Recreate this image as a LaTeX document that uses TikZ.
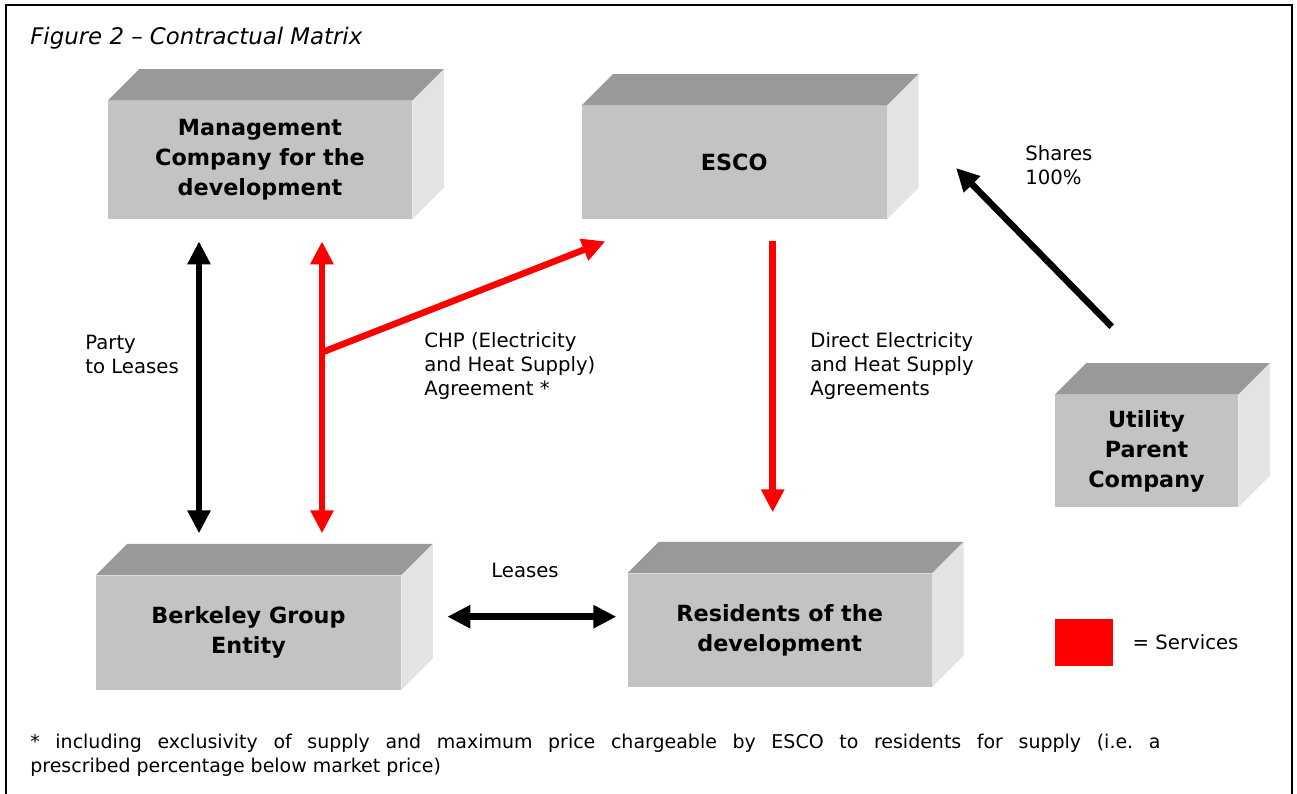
\documentclass[tikz,border=0pt]{standalone}
\usepackage{fontspec}
\setmainfont{DejaVu Sans}
\usetikzlibrary{positioning,arrows.meta,calc}
\frenchspacing

\definecolor{frontgray}{RGB}{195,195,195}
\definecolor{topgray}{RGB}{153,153,153}
\definecolor{sidegray}{RGB}{227,227,227}

\begin{document}
\begin{tikzpicture}[
    font=\fontsize{11.2}{13.66}\selectfont,
    >={Triangle[length=0.46cm,width=0.44cm]},
    cuboid/.style={
        fill=frontgray,
        minimum width=6.1cm,
        minimum height=2.28cm,
        align=center,
        inner sep=0pt,
        font=\fontsize{12.7}{17.1}\selectfont\bfseries
    },
    smallcuboid/.style={
        cuboid,
        minimum width=3.66cm,
        minimum height=2.24cm
    },
    topface/.style={fill=topgray},
    sideface/.style={fill=sidegray},
    lbl/.style={
        align=left,
        anchor=west,
        inner sep=0pt
    },
    oneway/.style={
        ->,
        line width=0.13cm
    },
    twoway/.style={
        <->,
        line width=0.13cm
    }
]

% Dimensions
\def\depth{0.63}
\useasboundingbox (0,0) rectangle (25.94,-15.88);

% Frame
\draw[line width=0.04cm] (0.12,-15.88) -- (0.12,-0.10) -- (25.84,-0.10) -- (25.84,-15.88);

% Title
\node[lbl, font=\fontsize{13}{15}\selectfont\itshape] (title) at (0.60,-0.76) {Figure 2 \textendash{} Contractual Matrix};

% Boxes
\node[cuboid, minimum width=6.08cm, minimum height=2.36cm] (mgmt) at (5.20,-3.20) {Management\\Company for the\\development};
\node[cuboid, minimum height=2.26cm, right=3.38cm of mgmt, yshift=-0.05cm] (esco) {ESCO};
\node[cuboid, below=7.12cm of mgmt, xshift=-0.23cm] (berk) {Berkeley Group\\Entity};
\node[cuboid, minimum width=6.08cm, minimum height=2.26cm, right=4.52cm of berk, yshift=0.05cm] (res) {Residents of the\\development};
\node[smallcuboid] (util) at (22.93,-9.02) {Utility\\Parent\\Company};

% Top and side faces
\foreach \n in {mgmt,esco,berk,res,util} {
    \fill[topface] (\n.north west) -- ++(\depth,\depth) -- ($(\n.north east)+(\depth,\depth)$) -- (\n.north east) -- cycle;
    \fill[sideface] (\n.north east) -- ++(\depth,\depth) -- ($(\n.south east)+(\depth,\depth)$) -- (\n.south east) -- cycle;
}

% Arrows between management company and Berkeley
\draw[twoway] ($(mgmt.south)+(-1.22,-0.44)$) -- ($(mgmt.south |- berk.north)+(-1.22,0.84)$);
\draw[twoway, red] ($(mgmt.south)+(1.24,-0.44)$) -- ($(mgmt.south |- berk.north)+(1.24,0.84)$);

% CHP agreement branch
\coordinate (fork) at ($(mgmt.south)+(1.24,-2.66)$);
\draw[oneway, red] (fork) -- ($(esco.south west)+(0.48,-0.44)$);

% Supply to residents
\draw[oneway, red] ($(esco.south)+(0.77,-0.44)$) -- ($(esco.south |- res.north)+(0.77,1.22)$);

% Shares
\draw[oneway] ($(util.north west)+(1.14,1.36)$) -- ($(esco.east)+(1.38,-0.11)$);

% Leases
\draw[twoway] ($(berk.east)+(0.92,0.32)$) -- ($(berk.east -| res.west)+(-0.22,0.32)$);

% Labels
\node[lbl] (party) at (1.70,-7.08) {Party\\to Leases};
\node[lbl] (chp) at (8.48,-7.32) {CHP (Electricity\\and Heat Supply)\\Agreement *};
\node[lbl] (direct) at (16.20,-7.32) {Direct Electricity\\and Heat Supply\\Agreements};
\node[lbl] (shares) at (20.50,-3.30) {Shares\\100\%};
\node[inner sep=0pt] (leases) at (10.50,-11.40) {Leases};

% Legend
\node[fill=red, minimum width=1.16cm, minimum height=0.94cm, inner sep=0pt] (legend) at (21.68,-12.85) {};
\node[lbl, right=0.38cm of legend] (services) {= Services};

% Footnote
\node[lbl, text width=22.6cm, align=justify, font=\fontsize{10.8}{13.66}\selectfont] (note) at (0.60,-15.10) {* including exclusivity of supply and maximum price chargeable by ESCO to residents for supply (i.e. a\linebreak prescribed percentage below market price)};

\end{tikzpicture}
\end{document}
